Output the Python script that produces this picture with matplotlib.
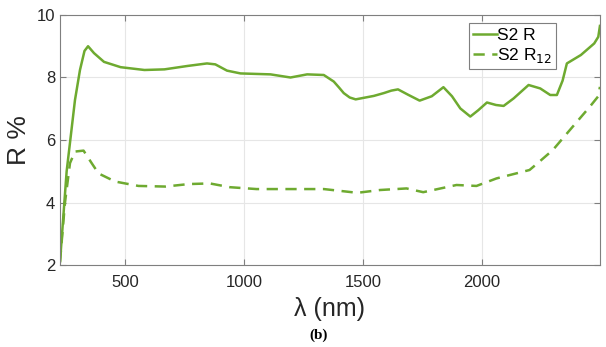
import numpy as np
import matplotlib.pyplot as plt

# reflectance spectra, sample S2
wl_r = [227, 255, 290, 311, 330, 345, 370, 412, 482, 582, 666, 764, 845, 880,
        929, 986, 1112, 1196, 1266, 1336, 1378, 1400, 1420, 1445, 1470, 1546,
        1588, 1620, 1648, 1690, 1739, 1790, 1839, 1875, 1910, 1952, 1985,
        2022, 2060, 2092, 2134, 2197, 2246, 2288, 2316, 2340, 2358, 2417,
        2473, 2490, 2497]
r_s2 = [2.1, 5.0, 7.28, 8.24, 8.85, 9.0, 8.78, 8.5, 8.33, 8.24, 8.26, 8.37,
        8.45, 8.42, 8.22, 8.13, 8.1, 8.0, 8.1, 8.08, 7.87, 7.68, 7.5, 7.36,
        7.3, 7.41, 7.5, 7.58, 7.62, 7.45, 7.26, 7.4, 7.69, 7.4, 7.01, 6.75,
        6.95, 7.2, 7.12, 7.09, 7.33, 7.76, 7.65, 7.44, 7.44, 7.9, 8.45, 8.72,
        9.09, 9.3, 9.65]

wl_r12 = [227, 248, 269, 290, 326, 361, 389, 459, 557, 670, 768, 857, 941,
          1053, 1196, 1336, 1407, 1477, 1573, 1684, 1754, 1894, 1978, 2062,
          2201, 2243, 2299, 2383, 2455, 2490, 2497]
r12_s2 = [2.1, 4.0, 5.26, 5.63, 5.66, 5.25, 4.93, 4.67, 4.53, 4.51, 4.59,
          4.61, 4.49, 4.43, 4.43, 4.43, 4.37, 4.31, 4.4, 4.45, 4.33, 4.56,
          4.53, 4.77, 5.04, 5.31, 5.68, 6.43, 7.07, 7.4, 7.7]

green = '#6EAA30'
font = 'Liberation Sans'

fig = plt.figure(figsize=(6.06, 3.47), dpi=100)
ax = fig.add_axes([0.099, 0.2363, 0.891, 0.7205])

ax.plot(wl_r, r_s2, '-', color=green, lw=1.8, label='S2 R')
ax.plot(wl_r12, r12_s2, '--', color=green, lw=1.8, dashes=(4.5, 3),
        label='S2 R$_{12}$')

ax.set_xlim(227, 2497)
ax.set_ylim(2, 10)
ax.set_xticks([500, 1000, 1500, 2000])
ax.set_yticks([2, 4, 6, 8, 10])
ax.grid(True, color='#e6e6e6', lw=0.8)
ax.set_axisbelow(True)
for s in ax.spines.values():
    s.set_color('#7f7f7f')
    s.set_linewidth(0.8)
ax.tick_params(direction='in', length=4, color='#7f7f7f', labelsize=12,
               labelcolor='#262626', top=True, right=True)
ax.tick_params(axis='x', pad=7)
for lab in ax.get_xticklabels() + ax.get_yticklabels():
    lab.set_family(font)

ax.set_ylabel('R %', fontsize=19, family=font, color='#262626', labelpad=4)
ax.set_xlabel('λ (nm)', fontsize=18, family=font, color='#262626',
              labelpad=5)

leg = ax.legend(loc='upper right', bbox_to_anchor=(0.919, 0.966),
                frameon=True, fancybox=False, framealpha=1,
                handlelength=1.35, handletextpad=0.0, borderpad=0.25,
                borderaxespad=0.0, labelspacing=0.15,
                prop={'family': font, 'size': 12.5})
leg.get_frame().set_edgecolor('#7f7f7f')
leg.get_frame().set_linewidth(0.8)

fig.text(0.526, 0.035, '(b)', ha='center', va='center', fontsize=11,
         fontweight='bold', family='Liberation Serif')

fig.savefig('out.png', dpi=100)
